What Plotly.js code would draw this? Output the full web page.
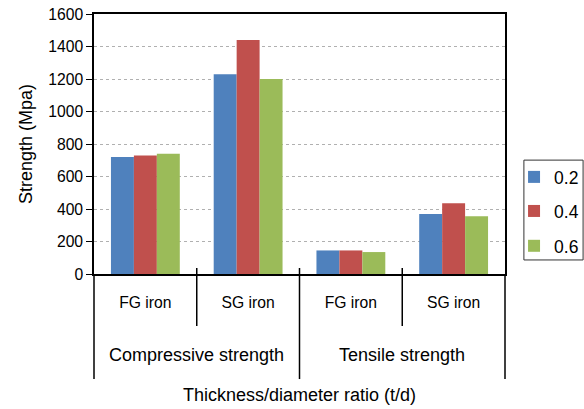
<!DOCTYPE html>
<html><head><meta charset="utf-8">
<script src="https://cdn.plot.ly/plotly-3.0.1.min.js"></script>
<style>body{margin:0;padding:0;background:#fff}#chart{width:584px;height:409px}</style>
</head><body><div id="chart"></div>
<script>
const groupLabels = ["Compressive strength","Tensile strength"];
const materials = ["FG iron","SG iron","FG iron","SG iron"];
const positions = [0, 1, 2, 3];
const seriesNames = ["0.2","0.4","0.6"];
const values02 = [720, 1230, 145, 370];
const values04 = [730, 1440, 145, 435];
const values06 = [740, 1200, 135, 355];
const colors = ["#4F81BD","#C0504D","#9BBB59"];
const allValues = [values02, values04, values06];
const legendIds = ['legend','legend2','legend3'];
const legendY = [0.373, 0.242, 0.108];

const traces = allValues.map((v,i)=>({
  type:'bar', name:seriesNames[i], x:positions, y:v, legend:legendIds[i],
  marker:{color:colors[i], line:{width:0}}
}));
const fam = 'Liberation Sans, Arial, sans-serif';
const lc = '#000';
const shapes = [];
const nCat = materials.length;
for (let b = 0; b <= nCat; b++) {
  const xp = b / nCat;
  const outer = (b === 0 || b === nCat);
  const mid = (b === nCat/2);
  shapes.push({type:'line', xref:'paper', yref:'paper', x0:xp, x1:xp,
    y0: outer ? 0 : 0.023, y1: (outer||mid) ? -0.404 : -0.2,
    line:{color:lc, width:1.5}});
}
shapes.push({type:'rect', xref:'paper', yref:'paper', x0:1.046, x1:1.19, y0:0.054, y1:0.438,
  line:{color:'#333', width:1}, fillcolor:'rgba(0,0,0,0)'});

const annotations = groupLabels.map((g,i)=>({
  text:g, xref:'paper', yref:'paper', x:(2*i+1)/4, y:-0.3115, yanchor:'middle', xanchor:'center',
  showarrow:false, font:{family:fam, size:18, color:'#000'}
}));
annotations.push({text:'Thickness/diameter ratio (t/d)', xref:'paper', yref:'paper', x:0.5, y:-0.465,
  yanchor:'middle', xanchor:'center', showarrow:false, font:{family:fam, size:18, color:'#000'}});

const layout = {
  width:584, height:409,
  margin:{l:94, r:79, t:14, b:135, autoexpand:false},
  paper_bgcolor:'#fff', plot_bgcolor:'#fff',
  font:{family:fam, size:15.7, color:'#000'},
  barmode:'group', bargap:0.33, bargroupgap:0,
  showlegend:true,
  shapes, annotations,
  xaxis:{range:[-0.5,3.5], tickmode:'array', tickvals:positions, ticktext:materials,
    showline:true, linecolor:lc, linewidth:1.5, mirror:true, ticks:'', showgrid:false, zeroline:false,
    ticklabelstandoff:13, tickfont:{size:15.7}},
  yaxis:{range:[0,1600], dtick:200, showline:true, linecolor:lc, linewidth:1.5, mirror:true,
    ticks:'outside', ticklen:6, tickcolor:lc, tickfont:{size:15.7},
    showgrid:true, gridcolor:'#b0b0b0', griddash:'dot', gridwidth:1, zeroline:false,
    title:{text:'Strength (Mpa)', font:{size:18}, standoff:11}}
};
legendIds.forEach((id,i)=>{
  layout[id] = {x:1.022, y:legendY[i], xanchor:'left', yanchor:'middle', borderwidth:0,
    bgcolor:'rgba(0,0,0,0)', font:{size:17.5}, itemwidth:30};
});
Plotly.newPlot('chart', traces, layout, {displayModeBar:false});
</script></body></html>
